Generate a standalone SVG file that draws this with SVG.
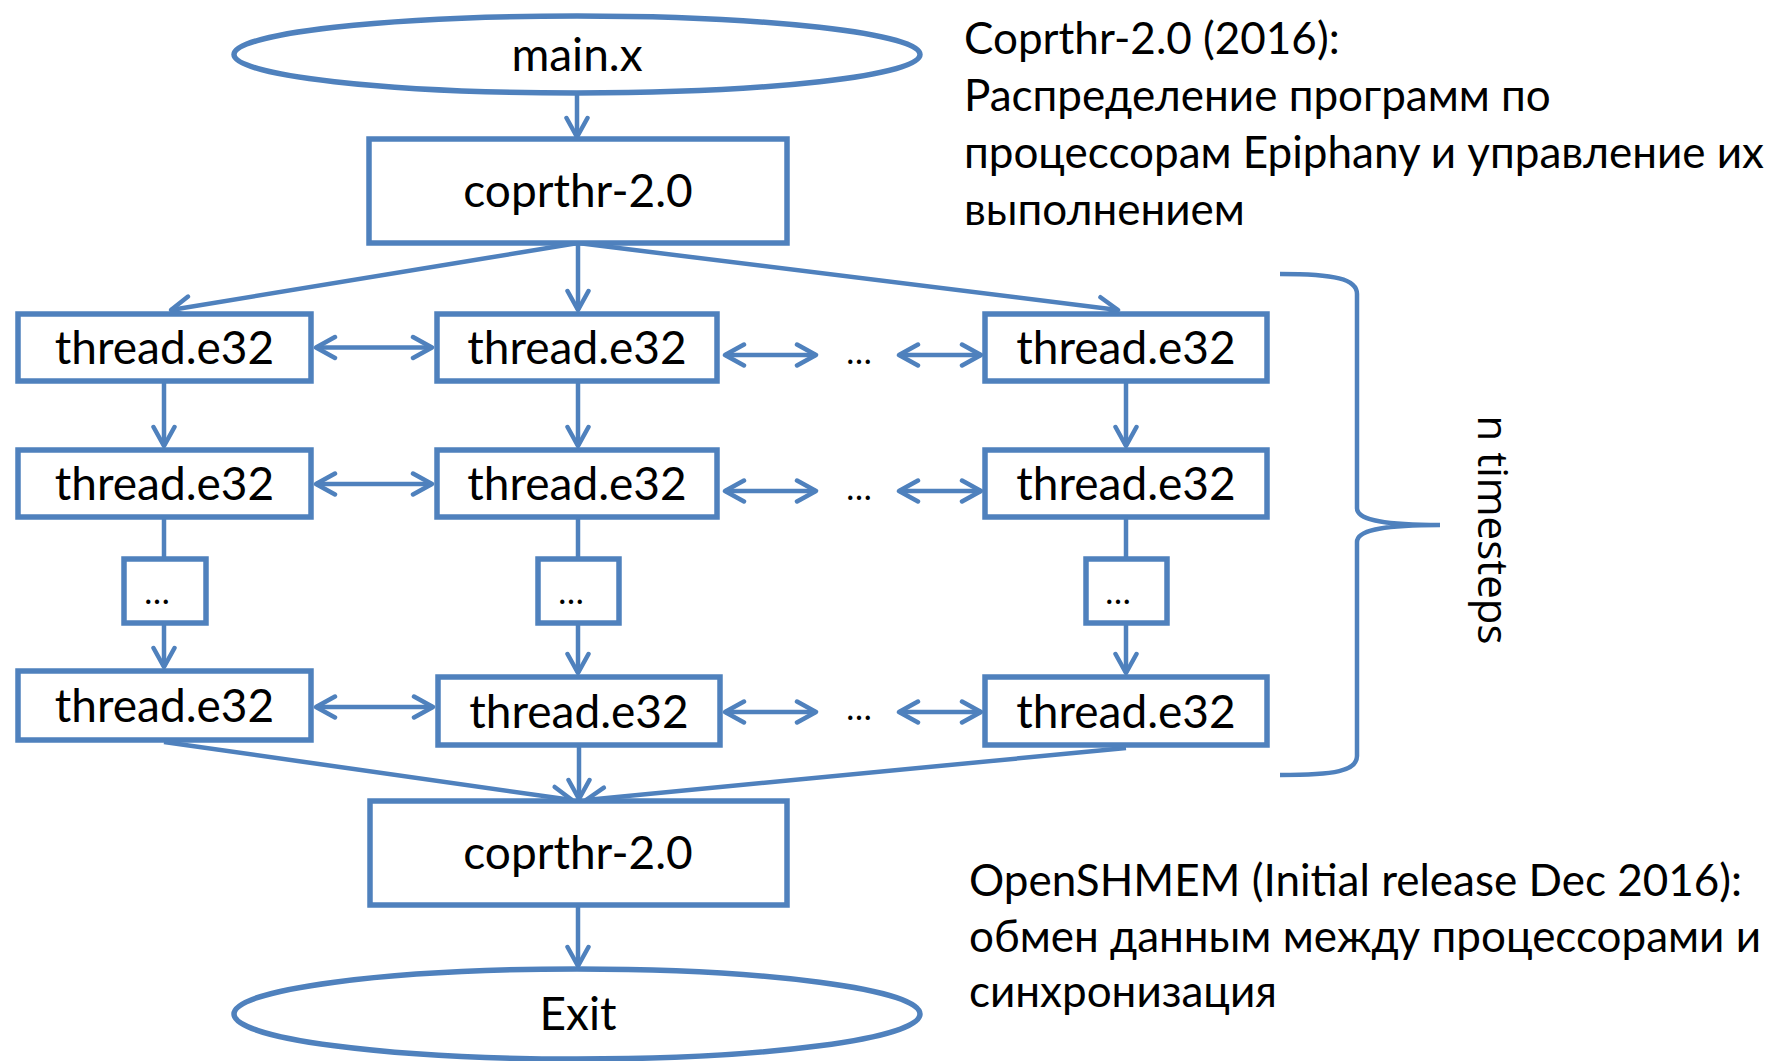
<svg xmlns="http://www.w3.org/2000/svg" width="1779" height="1061" viewBox="0 0 1779 1061">
<defs>
<style>
.n{fill:#ffffff;stroke:#4F81BD;stroke-width:5.5}
.c{fill:none;stroke:#4F81BD;stroke-width:4.5}
.t{font-family:Lato,"Open Sans","Liberation Sans",sans-serif;font-size:46px;fill:#000;text-anchor:middle}
.d{font-family:Lato,"Open Sans","Liberation Sans",sans-serif;font-size:34px;fill:#000;text-anchor:middle}
.p{font-family:Lato,"Open Sans","Liberation Sans",sans-serif;font-size:44px;fill:#000}
.v{font-family:"Open Sans","Noto Sans","DejaVu Sans",sans-serif;font-size:42px;fill:#000;text-anchor:middle}
</style>
<marker id="arr" markerUnits="userSpaceOnUse" markerWidth="28" markerHeight="28" viewBox="0 0 28 28" refX="22" refY="14" orient="auto-start-reverse">
<path d="M3,3.5 L22,14 L3,24.5" fill="none" stroke="#4F81BD" stroke-width="4.5" stroke-linecap="round" stroke-linejoin="round"/>
</marker>
</defs>
<rect width="1779" height="1061" fill="#ffffff"/>
<g id="connectors">
<line class="c" x1="577" y1="93" x2="577" y2="137" marker-end="url(#arr)"/>
<line class="c" x1="578" y1="243" x2="171" y2="310" marker-end="url(#arr)"/>
<line class="c" x1="578" y1="243" x2="578" y2="310" marker-end="url(#arr)"/>
<line class="c" x1="578" y1="243" x2="1118" y2="310" marker-end="url(#arr)"/>
<line class="c" x1="164" y1="383" x2="164" y2="446" marker-end="url(#arr)"/>
<line class="c" x1="578" y1="383" x2="578" y2="446" marker-end="url(#arr)"/>
<line class="c" x1="1126" y1="383" x2="1126" y2="446" marker-end="url(#arr)"/>
<line class="c" x1="164" y1="519" x2="164" y2="557"/>
<line class="c" x1="578" y1="519" x2="578" y2="557"/>
<line class="c" x1="1126" y1="519" x2="1126" y2="557"/>
<line class="c" x1="164" y1="625" x2="164" y2="667" marker-end="url(#arr)"/>
<line class="c" x1="578" y1="625" x2="578" y2="673" marker-end="url(#arr)"/>
<line class="c" x1="1126" y1="625" x2="1126" y2="673" marker-end="url(#arr)"/>
<line class="c" x1="164" y1="742" x2="572" y2="800" marker-end="url(#arr)"/>
<line class="c" x1="579" y1="747" x2="579" y2="799" marker-end="url(#arr)"/>
<line class="c" x1="1126" y1="748" x2="586" y2="800" marker-end="url(#arr)"/>
<line class="c" x1="578" y1="907" x2="578" y2="966" marker-end="url(#arr)"/>
<line class="c" x1="316" y1="347.5" x2="432" y2="347.5" marker-start="url(#arr)" marker-end="url(#arr)"/>
<line class="c" x1="725" y1="355" x2="816" y2="355" marker-start="url(#arr)" marker-end="url(#arr)"/>
<line class="c" x1="899" y1="355" x2="981" y2="355" marker-start="url(#arr)" marker-end="url(#arr)"/>
<line class="c" x1="316" y1="484" x2="432" y2="484" marker-start="url(#arr)" marker-end="url(#arr)"/>
<line class="c" x1="725" y1="491" x2="816" y2="491" marker-start="url(#arr)" marker-end="url(#arr)"/>
<line class="c" x1="899" y1="491" x2="981" y2="491" marker-start="url(#arr)" marker-end="url(#arr)"/>
<line class="c" x1="316" y1="707" x2="433" y2="707" marker-start="url(#arr)" marker-end="url(#arr)"/>
<line class="c" x1="725" y1="712" x2="816" y2="712" marker-start="url(#arr)" marker-end="url(#arr)"/>
<line class="c" x1="899" y1="712" x2="981" y2="712" marker-start="url(#arr)" marker-end="url(#arr)"/>
</g>
<g id="main-x"><ellipse class="n" cx="577" cy="54.5" rx="343" ry="38.5"/><text class="t" x="577" y="71">main.x</text></g>
<g id="coprthr-top"><rect class="n" x="369" y="139" width="418" height="104"/><text class="t" x="578" y="207">coprthr-2.0</text></g>
<g id="t11"><rect class="n" x="18" y="314" width="293" height="67"/><text class="t" x="164.5" y="364">thread.e32</text></g>
<g id="t12"><rect class="n" x="437" y="314" width="280" height="67"/><text class="t" x="577" y="364">thread.e32</text></g>
<g id="t13"><rect class="n" x="985" y="314" width="282" height="67"/><text class="t" x="1126" y="364">thread.e32</text></g>
<g id="t21"><rect class="n" x="18" y="450" width="293" height="67"/><text class="t" x="164.5" y="500">thread.e32</text></g>
<g id="t22"><rect class="n" x="437" y="450" width="280" height="67"/><text class="t" x="577" y="500">thread.e32</text></g>
<g id="t23"><rect class="n" x="985" y="450" width="282" height="67"/><text class="t" x="1126" y="500">thread.e32</text></g>
<g id="dots1"><rect class="n" x="124" y="559" width="82" height="64"/><text class="d" x="157" y="604">…</text></g>
<g id="dots2"><rect class="n" x="538" y="559" width="81" height="64"/><text class="d" x="571" y="604">…</text></g>
<g id="dots3"><rect class="n" x="1086" y="559" width="81" height="64"/><text class="d" x="1118" y="604">…</text></g>
<g id="t31"><rect class="n" x="18" y="671" width="293" height="69"/><text class="t" x="164.5" y="722">thread.e32</text></g>
<g id="t32"><rect class="n" x="438" y="677" width="282" height="68"/><text class="t" x="579" y="728">thread.e32</text></g>
<g id="t33"><rect class="n" x="985" y="677" width="282" height="68"/><text class="t" x="1126" y="728">thread.e32</text></g>
<g id="coprthr-bottom"><rect class="n" x="370" y="801" width="417" height="104"/><text class="t" x="578" y="869">coprthr-2.0</text></g>
<g id="exit"><ellipse class="n" cx="577" cy="1014" rx="343" ry="45"/><text class="t" x="578" y="1030">Exit</text></g>
<g id="row-ellipses">
<text class="d" font-size="38" x="859" y="364">…</text>
<text class="d" font-size="38" x="859" y="500">…</text>
<text class="d" font-size="38" x="859" y="720">…</text>
</g>
<g id="brace">
<path class="c" d="M1280,274 C1335,274 1357,279 1357,294 V508 C1357,519 1378,525 1440,525 C1378,525 1357,531 1357,542 V756 C1357,771 1335,775 1280,775"/>
<text class="v" transform="translate(1478,530) rotate(90)">n timesteps</text>
</g>
<g id="note-coprthr">
<text class="p" x="964" y="54">Coprthr-2.0 (2016):</text>
<text class="p" x="964" y="111">Распределение программ по</text>
<text class="p" x="964" y="168">процессорам Epiphany и управление их</text>
<text class="p" x="964" y="225">выполнением</text>
</g>
<g id="note-openshmem">
<text class="p" x="969" y="896">OpenSHMEM (Initial release Dec 2016):</text>
<text class="p" x="969" y="952">обмен данным между процессорами и</text>
<text class="p" x="969" y="1007">синхронизация</text>
</g>
</svg>
